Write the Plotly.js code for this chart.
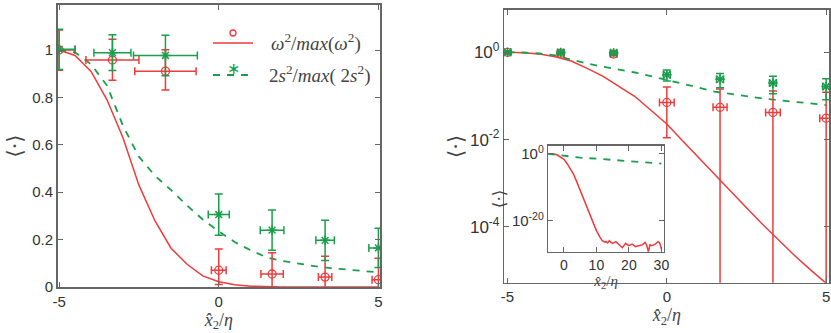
<!DOCTYPE html>
<html>
<head>
<meta charset="utf-8">
<script src="https://cdn.plot.ly/plotly-3.0.1.min.js"></script>
<style>
  html, body { margin: 0; padding: 0; background: #fff; }
  #chart { width: 831px; height: 333px; }
</style>
</head>
<body>
<div id="chart"></div>
<script>
// model curves, sampled every 0.5 in x2/eta
var curveX = [-5, -4.5, -4, -3.5, -3, -2.5, -2, -1.5, -1, -0.5, 0, 0.5, 1, 1.5, 2, 2.5, 3, 3.5, 4, 4.5, 5];
var redCurve = [1, 0.977, 0.91, 0.79, 0.63, 0.43, 0.28, 0.165, 0.097, 0.047, 0.0227, 0.0093, 0.0038, 0.00158,
                6.6e-4, 2.75e-4, 1.15e-4, 5.0e-5, 2.24e-5, 1.05e-5, 5.1e-6];
var greenCurve = [1.0, 0.99, 0.94, 0.85, 0.68, 0.55, 0.47, 0.41, 0.345, 0.285, 0.235, 0.19, 0.155, 0.125,
                  0.11, 0.098, 0.088, 0.080, 0.073, 0.067, 0.062];

// measured points
var ptX = [-5, -3.33, -1.67, 0, 1.67, 3.33, 5];
var redY = [1.0, 0.958, 0.911, 0.071, 0.055, 0.042, 0.031];
var redErrPlus = [0.085, 0.087, 0.09, 0.09, 0.09, 0.088, 0.09];
var redErrMinus = [0.085, 0.085, 0.08, 0.06, 0.09, 0.088, 0.09];
var redErrX = [0.5, 0.83, 0.96, 0.23, 0.35, 0.21, 0.2];
var redErrXLog = [0.1, 0.1, 0.1, 0.23, 0.22, 0.23, 0.2];
var greenY = [1.003, 0.989, 0.977, 0.306, 0.24, 0.197, 0.165];
var greenErrY = [0.085, 0.075, 0.085, 0.087, 0.085, 0.085, 0.083];
var greenErrX = [0.5, 0.58, 1.0, 0.33, 0.37, 0.29, 0.3];
var greenErrXLog = [0.1, 0.1, 0.1, 0.11, 0.11, 0.11, 0.11];

// inset (wider x range)
var insetRedX = [-5, -4, -3, -2, -1, 0, 1, 2, 3, 4, 5, 6, 7, 8, 9, 10, 11, 11.8, 12.5, 13, 13.5, 14, 14.5, 15,
                 16, 17, 18, 19, 20, 21, 22, 23, 24, 25, 25.5, 26, 26.5, 27, 28, 29, 29.5, 30];
var insetRedY = [1, 0.97, 0.8, 0.4, 0.11, 0.02, 1e-3, 3.2e-5, 6.3e-7, 3.2e-9, 1.3e-11, 5e-14, 1.6e-16, 5e-19,
                 1.6e-21, 1e-23, 1.6e-25, 1e-26, 4e-27, 5e-27, 2e-27, 1e-26, 3e-27, 1.6e-27,
                 5e-27, 5e-28, 8e-29, 1.6e-27, 3.2e-28, 1e-27, 1.6e-28, 3.2e-28, 5e-28, 3.2e-27, 4e-28, 5e-30, 6e-28,
                 3.2e-28, 8e-28, 5e-27, 2e-27, 3.2e-29];
var insetGreenX = [-5, 0, 5, 10, 15, 20, 25, 30];
var insetGreenY = [1, 0.25, 0.063, 0.032, 0.014, 0.0063, 0.0028, 0.0011];

var RED = '#ee3b3b';
var GREEN = '#1a9e4c';
var AXC = '#666666';
var TICKFONT = {family: 'Liberation Sans, Arial, sans-serif', size: 15, color: '#333'};
var MATHFONT = {family: 'Liberation Serif, DejaVu Serif, serif', size: 18, color: '#444'};
var LEGFONT = {family: 'Liberation Serif, DejaVu Serif, serif', size: 19, color: '#444'};
var BRAFONT = {family: 'DejaVu Serif, serif', size: 21, color: '#444'};

function lineTrace(xa, ya, xs, ys, color, dash) {
    return {x: xs, y: ys, xaxis: xa, yaxis: ya, type: 'scatter', mode: 'lines',
            line: {color: color, width: dash ? 1.8 : 1.5, dash: dash || 'solid'}, hoverinfo: 'skip'};
}

function points(xa, ya, rex, gex) {
    return [
        {x: ptX, y: redY, xaxis: xa, yaxis: ya, type: 'scatter', mode: 'markers',
         marker: {symbol: 'circle-open', size: 8, color: RED, line: {width: 1.3, color: RED}},
         error_y: {type: 'data', symmetric: false, array: redErrPlus, arrayminus: redErrMinus,
                   color: RED, thickness: 1.5, width: 4},
         error_x: {type: 'data', array: rex, color: RED, thickness: 1.5, width: 4}},
        {x: ptX, y: greenY, xaxis: xa, yaxis: ya, type: 'scatter', mode: 'markers',
         marker: {symbol: 'asterisk-open', size: 8, color: GREEN, line: {width: 1.5, color: GREEN}},
         error_y: {type: 'data', array: greenErrY, color: GREEN, thickness: 1.5, width: 4},
         error_x: {type: 'data', array: gex, color: GREEN, thickness: 1.5, width: 4}}
    ];
}

var DASH = '7px,7px';
var data = [].concat(
    [lineTrace('x', 'y', curveX, redCurve, RED), lineTrace('x', 'y', curveX, greenCurve, GREEN, DASH)],
    points('x', 'y', redErrX, greenErrX),
    [lineTrace('x2', 'y2', curveX, redCurve, RED), lineTrace('x2', 'y2', curveX, greenCurve, GREEN, DASH)],
    points('x2', 'y2', redErrXLog, greenErrXLog),
    [lineTrace('x3', 'y3', insetRedX, insetRedY, RED), lineTrace('x3', 'y3', insetGreenX, insetGreenY, GREEN, DASH)]
);

function axis(extra) {
    var base = {
        showline: true, linecolor: AXC, linewidth: 1.5, mirror: 'ticks',
        ticks: 'inside', ticklen: 5, tickcolor: AXC, tickwidth: 1,
        showgrid: false, zeroline: false, tickfont: TICKFONT, fixedrange: true
    };
    for (var k in extra) base[k] = extra[k];
    return base;
}

var xTitle = '<i>x̂</i><sub>2</sub>/<i>η</i>';
var brTitle = '⟨·⟩';

var layout = {
    width: 831, height: 333,
    margin: {l: 0, r: 0, t: 0, b: 0},
    paper_bgcolor: '#fff', plot_bgcolor: '#fff',
    showlegend: false,
    xaxis: axis({domain: [0.0692, 0.4573], range: [-5.05, 5.05], anchor: 'y',
                 tickvals: [-5, 0, 5], ticktext: ['-5', '0', '5'],
                 title: {text: xTitle, font: MATHFONT, standoff: 3}}),
    yaxis: axis({domain: [0.138, 0.985], range: [0, 1.19], anchor: 'x',
                 tickvals: [0, 0.2, 0.4, 0.6, 0.8, 1], ticktext: ['0', '0.2', '0.4', '0.6', '0.8', '1'],
                 title: {text: brTitle, font: BRAFONT, standoff: 4}}),
    xaxis2: axis({domain: [0.6069, 0.998], range: [-5.1, 5.1], anchor: 'y2',
                  tickvals: [-5, 0, 5], ticktext: ['-5', '0', '5'],
                  title: {text: xTitle, font: MATHFONT, standoff: 1}}),
    yaxis2: axis({domain: [0.151, 0.970], type: 'log', range: [-5.28, 0.97], anchor: 'x2',
                  tickvals: [1, 0.01, 0.0001],
                  ticktext: ['10<sup>0</sup>', '10<sup>-2</sup>', '10<sup>-4</sup>'],
                  tickfont: {family: TICKFONT.family, size: 17, color: '#333'},
                  title: {text: brTitle, font: BRAFONT, standoff: 0}}),
    xaxis3: axis({domain: [0.6598, 0.799], range: [-4.8, 30.8], anchor: 'y3',
                  tickvals: [0, 10, 20, 30], ticktext: ['0', '10', '20', '30'],
                  tickfont: {family: TICKFONT.family, size: 14, color: '#333'},
                  title: {text: xTitle, font: {family: MATHFONT.family, size: 15, color: '#444'}, standoff: 0}}),
    yaxis3: axis({domain: [0.2441, 0.5616], type: 'log', range: [-29.3, 2.3], anchor: 'x3',
                  tickvals: [1, 1e-20], ticktext: ['10<sup>0</sup>', '10<sup>-20</sup>'],
                  tickfont: {family: TICKFONT.family, size: 15, color: '#333'},
                  title: {text: brTitle, font: {family: 'DejaVu Serif, serif', size: 17, color: '#444'}, standoff: 2}}),
    // hand-drawn legend in the left panel
    shapes: [
        {type: 'line', xref: 'paper', yref: 'paper', x0: 213 / 831, x1: 253 / 831, y0: 1 - 43 / 333, y1: 1 - 43 / 333,
         line: {color: RED, width: 1.5}},
        {type: 'circle', xref: 'paper', yref: 'paper', x0: 230 / 831, x1: 236 / 831, y0: 1 - 36 / 333, y1: 1 - 30 / 333,
         line: {color: RED, width: 1.3}},
        {type: 'line', xref: 'paper', yref: 'paper', x0: 213 / 831, x1: 253 / 831, y0: 1 - 75 / 333, y1: 1 - 75 / 333,
         line: {color: GREEN, width: 1.8, dash: '7px,7px'}}
    ],
    annotations: [
        {xref: 'paper', yref: 'paper', x: 233 / 831, y: 1 - 68 / 333, xanchor: 'center', yanchor: 'middle',
         text: '∗', showarrow: false, font: {family: 'DejaVu Sans, sans-serif', size: 16, color: GREEN}},
        {xref: 'paper', yref: 'paper', x: 269 / 831, y: 1 - 42 / 333, xanchor: 'left', yanchor: 'middle', showarrow: false,
         text: '<i>ω</i><sup>2</sup>/<i>max</i>(<i>ω</i><sup>2</sup>)', font: LEGFONT},
        {xref: 'paper', yref: 'paper', x: 267 / 831, y: 1 - 74 / 333, xanchor: 'left', yanchor: 'middle', showarrow: false,
         text: '2<i>s</i><sup>2</sup>/<i>max</i>( 2<i>s</i><sup>2</sup>)', font: LEGFONT}
    ]
};

Plotly.newPlot('chart', data, layout, {displayModeBar: false, staticPlot: true});
</script>
</body>
</html>
